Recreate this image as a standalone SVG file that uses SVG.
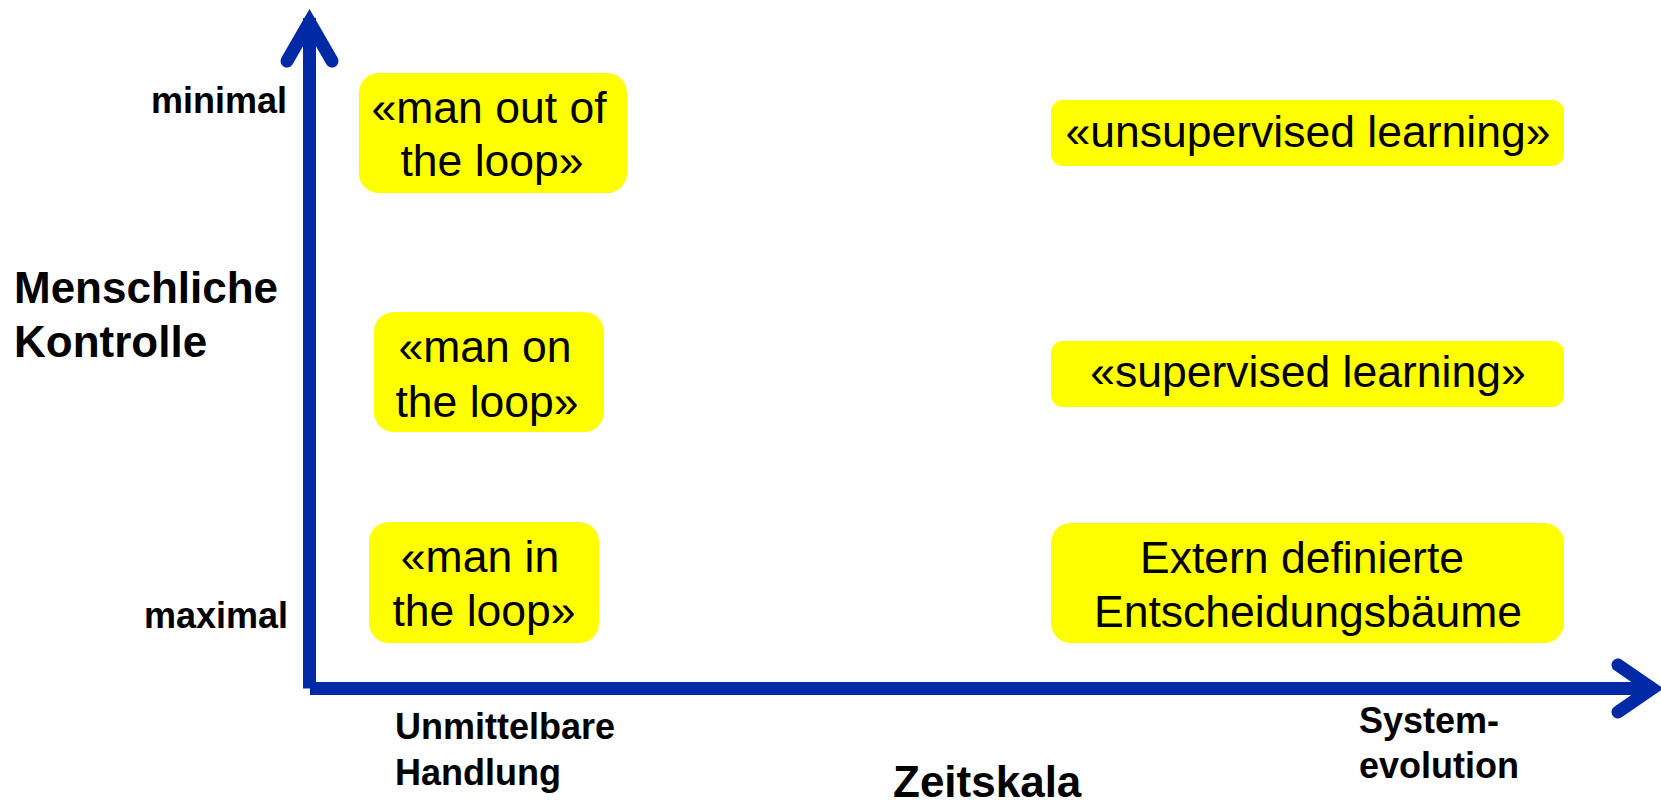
<svg xmlns="http://www.w3.org/2000/svg" width="1661" height="806" viewBox="0 0 1661 806">
  <style>
    .box { fill: #FFFF00; stroke: none; }
    .bt { font-family: "Liberation Sans", Arial, sans-serif; font-size: 44.5px; fill: #000; text-anchor: middle; }
    .lbl { font-family: "Liberation Sans", Arial, sans-serif; font-weight: bold; font-size: 36px; fill: #000; }
    .big { font-family: "Liberation Sans", Arial, sans-serif; font-weight: bold; font-size: 44px; fill: #000; }
    .axis { fill: none; stroke: #0029A6; stroke-width: 13; }
    .head { fill: none; stroke: #0029A6; stroke-width: 13; stroke-linecap: round; stroke-linejoin: miter; stroke-miterlimit: 10; }
  </style>
  <rect width="1661" height="806" fill="#FFFFFF"/>

  <g id="connectors">
    <line class="axis" x1="309.5" y1="18" x2="309.5" y2="688.5"/>
    <polyline class="head" points="287,61 309.5,22 332,61"/>
    <line class="axis" x1="310" y1="688.5" x2="1652" y2="688.5"/>
    <polyline class="head" points="1618,665 1652,688.5 1618,712"/>
  </g>

  <g id="axis-labels">
    <text class="lbl" x="287" y="113" text-anchor="end">minimal</text>
    <text class="lbl" x="288" y="628" text-anchor="end">maximal</text>
    <text class="big" x="14" y="303">Menschliche</text>
    <text class="big" x="14" y="357">Kontrolle</text>
    <text class="lbl" x="395" y="739">Unmittelbare</text>
    <text class="lbl" x="395" y="785">Handlung</text>
    <text class="lbl" x="1359" y="733">System-</text>
    <text class="lbl" x="1359" y="778">evolution</text>
    <text class="big" x="893" y="797">Zeitskala</text>
  </g>

  <g id="node-man-out">
    <rect class="box" x="359" y="73" width="268" height="120" rx="20" ry="20"/>
    <text class="bt" x="489" y="123">«man out of</text>
    <text class="bt" x="492" y="176">the loop»</text>
  </g>

  <g id="node-man-on">
    <rect class="box" x="374" y="312" width="230" height="120" rx="20" ry="20"/>
    <text class="bt" x="485" y="362">«man on</text>
    <text class="bt" x="487" y="417">the loop»</text>
  </g>

  <g id="node-man-in">
    <rect class="box" x="369" y="522" width="230" height="121" rx="20" ry="20"/>
    <text class="bt" x="480" y="572">«man in</text>
    <text class="bt" x="484" y="626">the loop»</text>
  </g>

  <g id="node-unsupervised">
    <rect class="box" x="1051" y="100" width="513" height="66" rx="12" ry="12"/>
    <text class="bt" x="1308" y="147">«unsupervised learning»</text>
  </g>

  <g id="node-supervised">
    <rect class="box" x="1051" y="341" width="513" height="66" rx="12" ry="12"/>
    <text class="bt" x="1308" y="387">«supervised learning»</text>
  </g>

  <g id="node-extern">
    <rect class="box" x="1051" y="523" width="513" height="120" rx="20" ry="20"/>
    <text class="bt" x="1302" y="573">Extern definierte</text>
    <text class="bt" x="1308" y="627">Entscheidungsbäume</text>
  </g>
</svg>
